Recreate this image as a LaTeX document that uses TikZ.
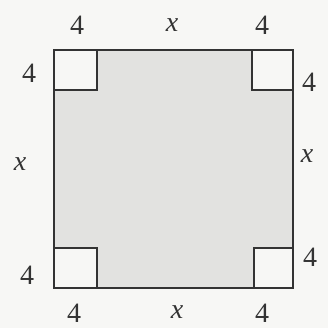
\documentclass[tikz,border=0pt]{standalone}
\usepackage{fontspec}
\setmainfont{Liberation Serif}
\begin{document}
\begin{tikzpicture}[x=1pt,y=-1pt,
  edge/.style={draw=black!80,line width=1.6pt},
  lbl/.style={font={\fontsize{28pt}{32pt}\selectfont},text=black!80,inner sep=0pt}]
\definecolor{paper}{HTML}{F7F7F5}
\definecolor{fillgray}{HTML}{E2E2E0}
\useasboundingbox (0,0) rectangle (328,328);
\fill[paper] (0,0) rectangle (328,328);
% shaded region
\fill[fillgray] (54,50) rectangle (293,288);
% corner squares
\fill[paper] (54,50) rectangle (97,90);
\fill[paper] (252,50) rectangle (293,90);
\fill[paper] (54,248) rectangle (97,288);
\fill[paper] (254,248) rectangle (293,288);
\draw[edge] (54,50) rectangle (293,288);
\draw[edge] (54,90) -- (97,90) -- (97,50);
\draw[edge] (252,50) -- (252,90) -- (293,90);
\draw[edge] (54,248) -- (97,248) -- (97,288);
\draw[edge] (254,288) -- (254,248) -- (293,248);
% labels
\node[lbl] (t1) at (77,25) {4};
\node[lbl] (t2) at (172,25) {\textit{x}};
\node[lbl] (t3) at (262,25) {4};
\node[lbl] (l1) at (29,73) {4};
\node[lbl] (l2) at (20,164) {\textit{x}};
\node[lbl] (l3) at (27,275) {4};
\node[lbl] (r1) at (309,82) {4};
\node[lbl] (r2) at (307,156) {\textit{x}};
\node[lbl] (r3) at (310,257) {4};
\node[lbl] (b1) at (74,313) {4};
\node[lbl] (b2) at (177,312) {\textit{x}};
\node[lbl] (b3) at (262,313) {4};
\end{tikzpicture}
\end{document}
